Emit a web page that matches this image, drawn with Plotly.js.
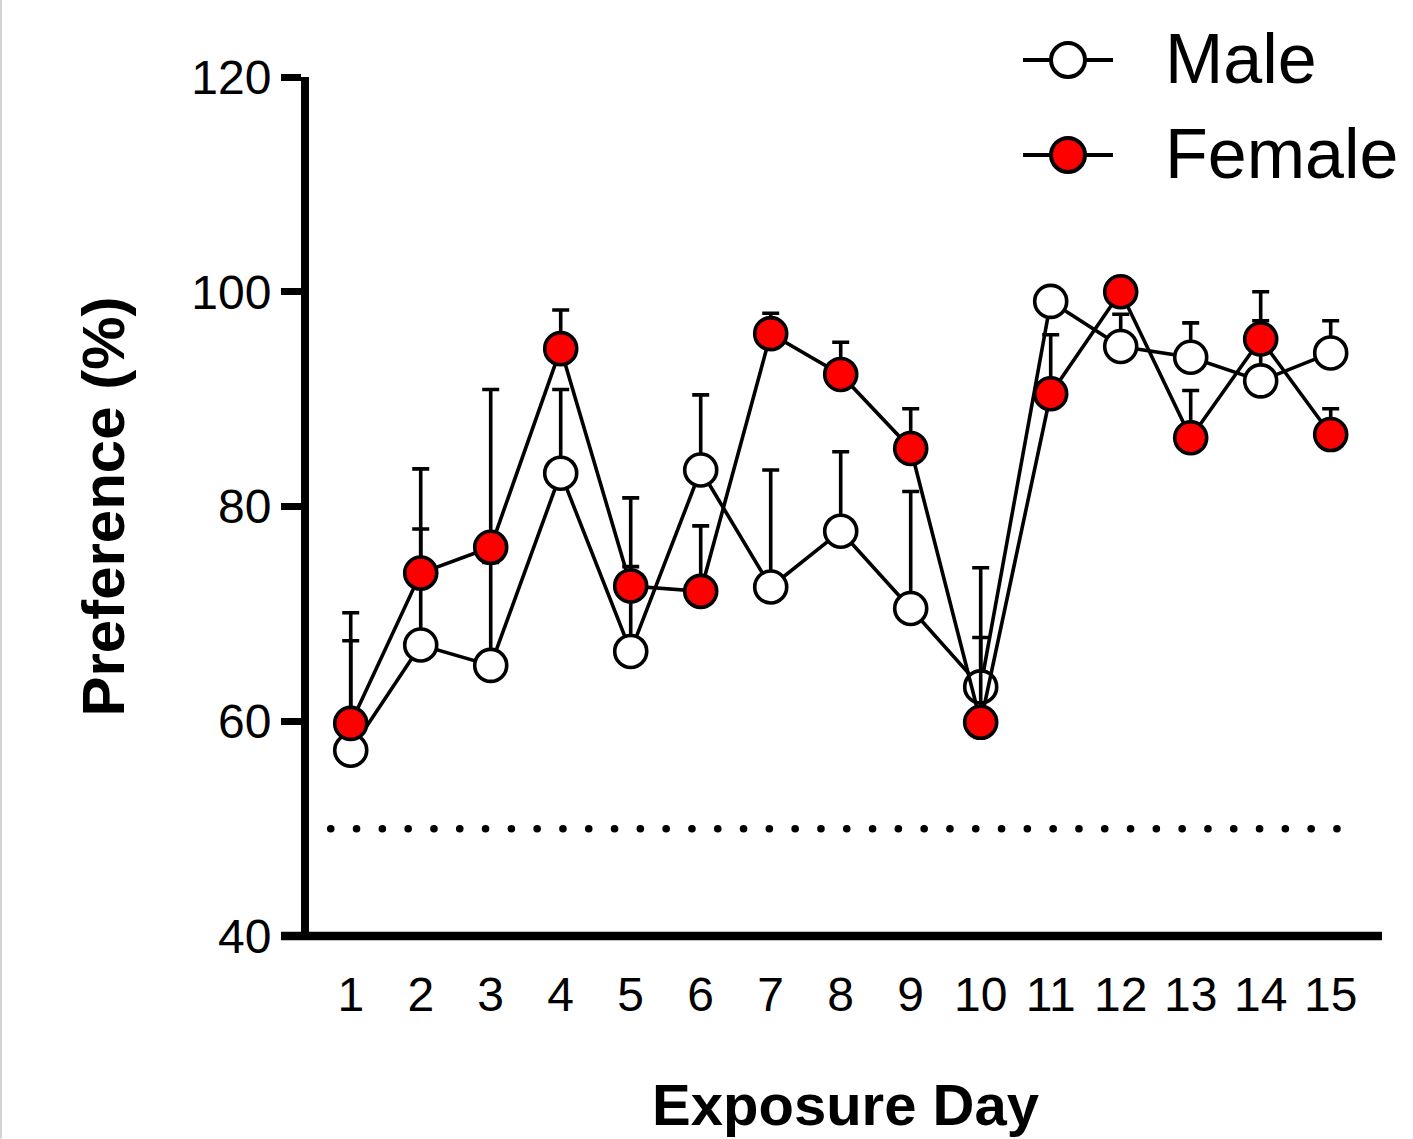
<!DOCTYPE html>
<html>
<head>
<meta charset="utf-8">
<script src="https://cdn.plot.ly/plotly-3.0.1.min.js"></script>
<style>
  html, body { margin: 0; padding: 0; background: #ffffff; }
  #chart { width: 1413px; height: 1139px; }
  path[style*="25.7px"] { stroke-linecap: round; }
  .legend-glyph-fix {}
</style>
</head>
<body>
<div id="chart"></div>
<script>
// ---- data ----
const days = [1, 2, 3, 4, 5, 6, 7, 8, 9, 10, 11, 12, 13, 14, 15];
const dayLabels = ["1","2","3","4","5","6","7","8","9","10","11","12","13","14","15"];
const maleMean = [57.3, 67.1, 65.2, 83.1, 66.5, 83.4, 72.5, 77.7, 70.5, 63.2, 99.1, 94.9, 93.9, 91.7, 94.3];
const maleErr  = [10.2, 10.8, 9.6, 7.8, 7.9, 7.0, 10.9, 7.4, 10.9, 11.1, 1.0, 3.0, 3.2, 5.6, 3.0];
const femaleMean = [59.8, 73.8, 76.2, 94.7, 72.6, 72.1, 96.1, 92.3, 85.4, 59.9, 90.5, 100.0, 86.4, 95.6, 86.7];
const femaleErr  = [10.3, 9.7, 14.7, 3.6, 8.2, 6.1, 1.9, 3.0, 3.7, 7.9, 5.5, 0.5, 4.4, 4.4, 2.4];
const zeros = days.map(() => 0);
const chanceLevel = 50;
const yTicks = [40, 60, 80, 100, 120];
const seriesNames = ["Male", "Female"];

const FONT = "Liberation Sans, Arial, Helvetica, sans-serif";

function makeTrace(name, y, err, fill) {
  return {
    type: "scatter",
    mode: "lines+markers",
    name: name,
    x: days,
    y: y,
    line: { color: "#000000", width: 3.6 },
    marker: { symbol: "circle", size: 32, color: fill, line: { color: "#000000", width: 3.6 } },
    error_y: {
      type: "data", symmetric: false, array: err, arrayminus: zeros,
      color: "#000000", thickness: 3.6, width: 8.5, visible: true
    },
    showlegend: false,
    cliponaxis: false
  };
}

const traces = [
  makeTrace(seriesNames[0], maleMean, maleErr, "#ffffff"),
  makeTrace(seriesNames[1], femaleMean, femaleErr, "#ff0000")
];

// paper-coordinate helpers (plot area: x 309..1382, y 77..936.5 px)
const PL = 309, PR = 1382, PT = 77, PB = 936.5;
const px = v => (v - PL) / (PR - PL);
const py = v => (PB - v) / (PB - PT);

const legendRows = [
  { name: seriesNames[0], fill: "#ffffff", y: 60 },
  { name: seriesNames[1], fill: "#ff0000", y: 155 }
];

const shapes = [
  // chance-level dotted line
  { type: "line", xref: "x", yref: "y", x0: 0.714, x1: 15.433, y0: chanceLevel, y1: chanceLevel,
    line: { color: "#000000", width: 7.5, dash: "0.1px,25.7px" }, layer: "below" },
  // x axis line at the bottom of the plot (y = 40), extended left to meet the 40 tick
  { type: "line", xref: "paper", yref: "paper", x0: px(281), x1: px(1382), y0: 0, y1: 0,
    line: { color: "#000000", width: 8.5 }, layer: "above" },
  // faint left frame border
  { type: "line", xref: "paper", yref: "paper", x0: px(1), x1: px(1), y0: py(1139), y1: py(0),
    line: { color: "#d4d4d4", width: 2 } }
];
const annotations = [];
legendRows.forEach(r => {
  shapes.push({ type: "line", xref: "paper", yref: "paper", x0: px(1023), x1: px(1113), y0: py(r.y), y1: py(r.y),
    line: { color: "#000000", width: 4 } });
  shapes.push({ type: "circle", xref: "paper", yref: "paper", xsizemode: "pixel", ysizemode: "pixel",
    xanchor: px(1068), yanchor: py(r.y), x0: -17, x1: 17, y0: -17, y1: 17,
    fillcolor: r.fill, line: { color: "#000000", width: 4 } });
  annotations.push({ xref: "paper", yref: "paper", x: px(1163), y: py(r.y - 1), xanchor: "left", yanchor: "middle",
    text: r.name, showarrow: false, font: { family: FONT, size: 70, color: "#000000" } });
});

const layout = {
  width: 1413, height: 1139,
  paper_bgcolor: "#ffffff", plot_bgcolor: "#ffffff",
  margin: { l: PL, r: 1413 - PR, t: PT, b: 1139 - PB, pad: 0 },
  showlegend: false,
  font: { family: FONT, color: "#000000" },
  xaxis: {
    range: [0.404, 15.733],
    tickmode: "array", tickvals: days, ticktext: dayLabels,
    ticks: "", showgrid: false, zeroline: false,
    showline: false,
    tickfont: { family: FONT, size: 48, color: "#000000" },
    ticklabelstandoff: 26,
    title: { text: "Exposure Day", font: { family: FONT, size: 58, color: "#000000", weight: "bold" }, standoff: 64 },
    automargin: false
  },
  yaxis: {
    range: [40, 120],
    tickmode: "array", tickvals: yTicks, ticktext: yTicks.map(String),
    ticks: "outside", ticklen: 20, tickwidth: 7, tickcolor: "#000000",
    showgrid: false, zeroline: false,
    showline: true, linecolor: "#000000", linewidth: 8,
    tickfont: { family: FONT, size: 48, color: "#000000" },
    title: { text: "Preference (%)", font: { family: FONT, size: 60, color: "#000000", weight: "bold" }, standoff: 50 },
    automargin: false
  },
  shapes: shapes,
  annotations: annotations
};

Plotly.newPlot("chart", traces, layout, { staticPlot: true, displayModeBar: false });
</script>
</body>
</html>
